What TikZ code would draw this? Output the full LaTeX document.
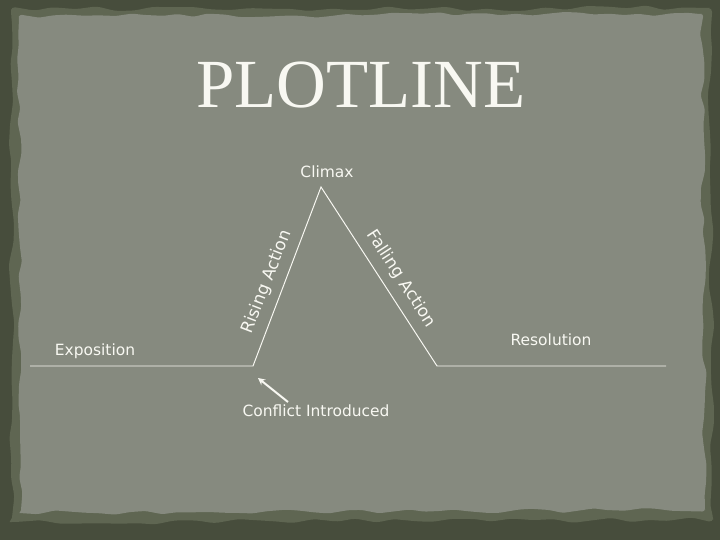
\documentclass[tikz,border=0pt]{standalone}
\usepackage{fontspec}
\setmainfont{DejaVu Sans}
\newfontfamily\titlefont{Liberation Serif}
\usetikzlibrary{decorations.pathmorphing,arrows.meta}
\definecolor{slateedge}{HTML}{474D3C}
\definecolor{slatemid}{HTML}{5F6652}
\definecolor{slatepanel}{HTML}{868A7F}
\definecolor{plotink}{HTML}{F8F8F2}

\begin{document}
\begin{tikzpicture}[
  x=0.025cm,
  y=0.025cm,
  every node/.style={font=\fontsize{11}{13}\selectfont, text=plotink, inner sep=1pt},
  slopelabel/.style={font=\fontsize{12}{14}\selectfont},
  plotline/.style={plotink, line width=0.7pt},
  pointer/.style={plotink, line width=1.4pt, -{Stealth[length=5pt,width=5pt]}}
]
  \pgfmathsetseed{4711}
  \fill[slateedge] (0,0) rectangle (720,540);
  \useasboundingbox (0,0) rectangle (720,540);
  \fill[slatemid, decorate, decoration={random steps, segment length=14pt, amplitude=2pt}, rounded corners=3pt]
    (12,18) -- (11,531) -- (710,532) -- (713,20) -- cycle;
  \fill[slatepanel, decorate, decoration={random steps, segment length=11pt, amplitude=1.8pt}, rounded corners=2pt]
    (21,27) -- (19,524) -- (702,526) -- (705,30) -- cycle;

  % the plot
  \coordinate (expostart) at (30,174);
  \coordinate (conflictpt) at (253,174);
  \coordinate (peak) at (321,353);
  \coordinate (fallend) at (437,174);
  \coordinate (resoend) at (666,174);
  \draw[plotline] (expostart) -- (conflictpt) -- (peak) -- (fallend) -- (resoend);

  \node[font=\titlefont\fontsize{49}{55}\selectfont] (title) at (361,455) {PLOTLINE};
  \node (climax) at (327,368) {Climax};
  \node[slopelabel, rotate=69] (rising) at (267,258) {Rising Action};
  \node[slopelabel, rotate=-57] (falling) at (401,261) {Falling Action};
  \node (exposition) at (95,189) {Exposition};
  \node (resolution) at (551,200) {Resolution};
  \node (conflict) at (316,129) {Conflict Introduced};

  \coordinate (conflicttail) at (288,138);
  \coordinate (conflicthead) at (258,162);
  \draw[pointer] (conflicttail) -- (conflicthead);
\end{tikzpicture}
\end{document}
